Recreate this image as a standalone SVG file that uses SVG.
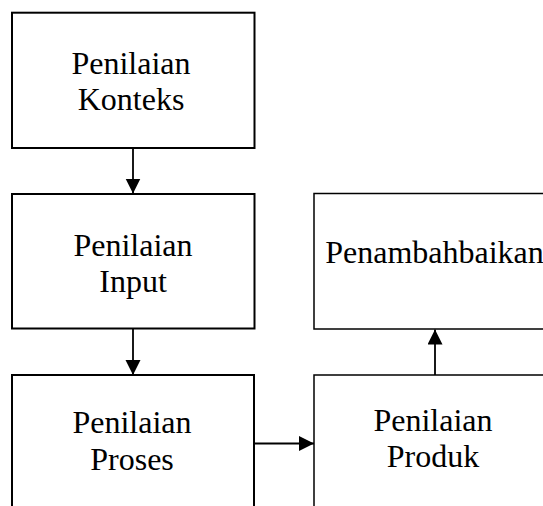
<svg xmlns="http://www.w3.org/2000/svg" width="543" height="506" viewBox="0 0 543 506">
<defs>
<style>
.box{fill:#fff;stroke:#000;stroke-width:2}
.boxr{fill:#fff;stroke:#000;stroke-width:1.5}
.lbl{font-family:"Liberation Serif","Times New Roman",serif;font-size:32px;fill:#000;text-anchor:middle}
.con{stroke:#000;stroke-width:1.8;fill:none;marker-end:url(#ah)}
</style>
<marker id="ah" markerUnits="userSpaceOnUse" markerWidth="16" markerHeight="16" refX="15" refY="7.5" orient="auto">
<path d="M0,0 L15,7.5 L0,15 z" fill="#000"/>
</marker>
</defs>
<rect width="543" height="506" fill="#fff"/>
<g id="connectors">
<line class="con" x1="133" y1="148" x2="133" y2="193.5"/>
<line class="con" x1="133" y1="329" x2="133" y2="375"/>
<line class="con" x1="254" y1="443.5" x2="314" y2="443.5"/>
<line class="con" x1="435" y1="375" x2="435" y2="329.5"/>
</g>
<g id="node-konteks">
<rect class="box" x="12" y="12.7" width="242.5" height="135.3"/>
<text class="lbl" x="131" y="74">Penilaian</text>
<text class="lbl" x="131" y="110">Konteks</text>
</g>
<g id="node-input">
<rect class="box" x="12" y="194" width="242.5" height="134.5"/>
<text class="lbl" x="133" y="256">Penilaian</text>
<text class="lbl" x="133" y="291.7">Input</text>
</g>
<g id="node-proses">
<rect class="box" x="12" y="375" width="242" height="140"/>
<text class="lbl" x="132" y="433.3">Penilaian</text>
<text class="lbl" x="132" y="470">Proses</text>
</g>
<g id="node-penambahbaikan">
<rect class="boxr" x="314" y="193.5" width="245" height="135.5"/>
<text class="lbl" x="434.5" y="263">Penambahbaikan</text>
</g>
<g id="node-produk">
<rect class="boxr" x="314" y="375" width="245" height="140"/>
<text class="lbl" x="433" y="431">Penilaian</text>
<text class="lbl" x="433" y="467">Produk</text>
</g>
</svg>
